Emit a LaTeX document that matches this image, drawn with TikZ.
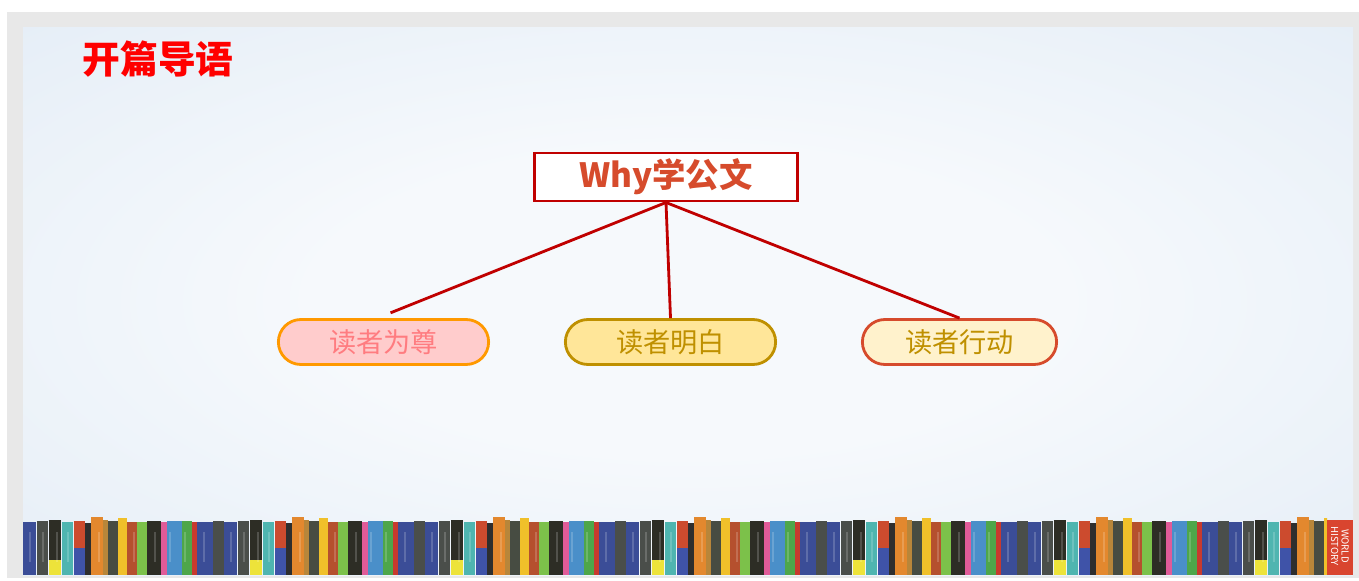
\documentclass[tikz,border=0pt]{standalone}
\usepackage{fontspec}
\setmainfont{Noto Sans CJK SC}
\usetikzlibrary{shapes.misc}

\definecolor{marco}{HTML}{E8E8E8}
\definecolor{fondoext}{HTML}{DBE7F4}
\definecolor{fondoint}{HTML}{F6F9FC}
\definecolor{granate}{HTML}{C00000}
\definecolor{teja}{HTML}{D64B2C}
\definecolor{rosaclaro}{HTML}{FFCCCC}
\definecolor{rosatexto}{HTML}{FF7C80}
\definecolor{naranjaborde}{HTML}{FF9900}
\definecolor{oroclaro}{HTML}{FFE699}
\definecolor{oro}{HTML}{BF9000}
\definecolor{cremaclaro}{HTML}{FFF2CC}
% lomos de los libros
\definecolor{azul}{HTML}{3B4D97}
\definecolor{gris}{HTML}{4A4E4A}
\definecolor{negro}{HTML}{2D2D25}
\definecolor{amarillolomo}{HTML}{EDE33A}
\definecolor{turquesa}{HTML}{4FB5B0}
\definecolor{rojo}{HTML}{CC4B2E}
\definecolor{azulmedio}{HTML}{3F53A8}
\definecolor{oscuro}{HTML}{2E2E2E}
\definecolor{naranja}{HTML}{E3882E}
\definecolor{marron}{HTML}{B8863A}
\definecolor{verdoso}{HTML}{474C42}
\definecolor{amarillo}{HTML}{F0C02A}
\definecolor{ladrillo}{HTML}{B5502E}
\definecolor{verde}{HTML}{7CC14A}
\definecolor{rosa}{HTML}{E05B98}
\definecolor{celeste}{HTML}{4A8FC9}
\definecolor{verdeosc}{HTML}{4EA64A}
\definecolor{rojolomo}{HTML}{C83A2E}
\definecolor{historia}{HTML}{D9452F}

% degradado suave del fondo
\pgfdeclareradialshading{fondo}{\pgfpoint{0bp}{0bp}}{%
    color(0bp)=(fondoint); color(14bp)=(fondoint); color(50bp)=(fondoext)}

\begin{document}
\begin{tikzpicture}[
    x=0.02cm,
    y=-0.02cm,
    rama/.style={granate,line width=1.6pt},
    caja/.style={draw=granate,line width=1.7pt,fill=white,
        minimum width=5.28cm,minimum height=0.94cm,
        text=teja,font=\fontsize{19}{22}\selectfont\bfseries},
    pastilla/.style={rounded rectangle,line width=1.6pt,
        minimum width=4.44cm,minimum height=0.9cm,
        font=\fontsize{15.5}{18}\selectfont}
]
    \useasboundingbox (0,0) rectangle (1359,581);
    \fill[white] (0,0) rectangle (1359,581);
    \fill[marco] (7,12) rectangle (1359,578);
    \shade[shading=fondo] (23,28) rectangle (1353,575);

    \node[text=red,font=\fontsize{21.5}{25}\selectfont\bfseries] (titulo) at (158,59) {开篇导语};

    \node[caja] (porque) at (666,177) {Why学公文};

    \node[pastilla,draw=naranjaborde,fill=rosaclaro,text=rosatexto] (respeto) at (383.5,342) {读者为尊};
    \node[pastilla,draw=oro,fill=oroclaro,text=oro] (claridad) at (670.5,342) {读者明白};
    \node[pastilla,draw=teja,fill=cremaclaro,text=oro,minimum width=4.12cm] (accion) at (959.5,342) {读者行动};

    \draw[rama] (porque.south) -- ([xshift=4pt,yshift=3pt]respeto.north);
    \draw[rama] (porque.south) -- (claridad.north);
    \draw[rama] (porque.south) -- (accion.north);

    % estante de libros
    \begin{scope}
        \clip (23,500) rectangle (1327,576);
        \foreach \k in {0,...,6} {
            \begin{scope}[xshift=\k*201*0.02cm]
                \foreach \a/\b/\c/\t in {0/13/azul/522, 14/25/gris/521, 26/38/negro/520,
                    39/50/turquesa/522, 51/62/rojo/521, 62/68/oscuro/523, 68/80/naranja/517,
                    80/85/marron/520, 85/95/verdoso/521, 95/104/amarillo/518, 104/114/ladrillo/522,
                    114/124/verde/522, 124/138/negro/521, 138/144/rosa/522, 144/159/celeste/521,
                    159/169/verdeosc/521, 169/174/rojolomo/522, 174/190/azul/522, 190/201/gris/521}
                    \fill[\c] (23+\a,\t) rectangle (23+\b,575);
                \fill[amarillolomo] (49,560) rectangle (61,575);
                \fill[azulmedio] (74,548) rectangle (85,575);
                \foreach \x in {29,42,56,67,98,133,154,169,184,203}
                    \fill[white,opacity=0.18] (\x,532) rectangle (\x+1.5,562);
            \end{scope}
        }
    \end{scope}
    \fill[historia] (1327,520) rectangle (1353,575);
    \node[white,font=\fontsize{5.5}{6}\selectfont,rotate=-90,align=center] (mundo) at (1340,546) {WORLD\\HISTORY};
\end{tikzpicture}
\end{document}
